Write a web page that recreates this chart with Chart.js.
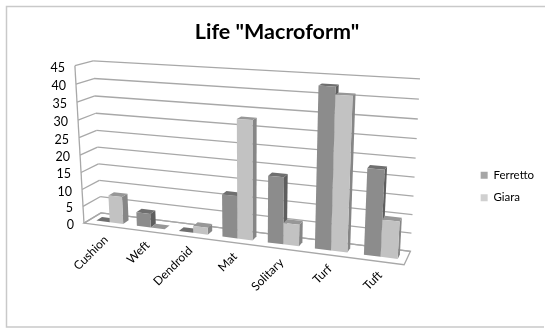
<!DOCTYPE html>
<html>
<head>
<meta charset="utf-8">
<title>Life "Macroform"</title>
<script src="https://cdn.jsdelivr.net/npm/chart.js@4"></script>
<style>
  html, body { margin: 0; padding: 0; background: #fff; }
  #wrap { width: 550px; height: 334px; }
</style>
</head>
<body>
<div id="wrap"><canvas id="grafica"></canvas></div>
<script>
const categorias = ["Cushion", "Weft", "Dendroid", "Mat", "Solitary", "Turf", "Tuft"];
const ferretto = [0, 4, 0, 12, 18.5, 43, 23];
const giara = [8, 0, 2, 33, 6, 41, 10];

// colors of each box: front, side, top
const colorFerretto = ["#8c8c8c", "#5e5e5e", "#6f6f6f"];
const colorGiara = ["#c2c2c2", "#868686", "#979797"];
const colorLeyenda = ["#a6a6a6", "#d0d0d0"];

// walls of the 3D box measured on the picture: [u, v, w] -> [x, y]
// u goes along the categories, v up the values, w from front to back
const esquinas = [
  [[0, 1, 1], [93, 61]], [[0, 0, 1], [101, 213]],
  [[1, 1, 1], [420, 79]], [[1, 0, 1], [410.5, 251]],
  [[0, 5 / 9, 1], [96.7, 130.3]], [[1, 5 / 9, 1], [415.7, 158]],
  [[0, 1, 0], [75, 65.5]], [[0, 0, 0], [84, 223]], [[1, 0, 0], [404, 265]]
];

// least squares for the 3x4 camera matrix (last term fixed to 1)
function calcularCamara(puntos) {
  const filas = [];
  puntos.forEach(([[u, v, w], [x, y]]) => {
    const px = x / 500, py = y / 500;
    filas.push([u, v, w, 1, 0, 0, 0, 0, -px * u, -px * v, -px * w, px]);
    filas.push([0, 0, 0, 0, u, v, w, 1, -py * u, -py * v, -py * w, py]);
  });
  const n = 11;
  const m = [];
  for (let i = 0; i < n; i++) {
    m[i] = [];
    for (let j = 0; j <= n; j++) {
      m[i][j] = filas.reduce((s, f) => s + f[i] * f[j], 0);
    }
  }
  for (let i = 0; i < n; i++) {
    let p = i;
    for (let k = i + 1; k < n; k++) if (Math.abs(m[k][i]) > Math.abs(m[p][i])) p = k;
    [m[i], m[p]] = [m[p], m[i]];
    for (let k = 0; k < n; k++) {
      if (k === i) continue;
      const f = m[k][i] / m[i][i];
      for (let j = i; j <= n; j++) m[k][j] -= f * m[i][j];
    }
  }
  return m.map((fila, i) => fila[n] / fila[i]);
}

const cam = calcularCamara(esquinas);

function proyectar(u, v, w) {
  const d = cam[8] * u + cam[9] * v + cam[10] * w + 1;
  return [
    500 * (cam[0] * u + cam[1] * v + cam[2] * w + cam[3]) / d,
    500 * (cam[4] * u + cam[5] * v + cam[6] * w + cam[7]) / d
  ];
}

function cara(ctx, puntos, relleno) {
  ctx.beginPath();
  puntos.forEach((p, i) => i ? ctx.lineTo(p[0], p[1]) : ctx.moveTo(p[0], p[1]));
  ctx.closePath();
  ctx.fillStyle = relleno;
  ctx.fill();
}

function linea(ctx, a, b) {
  ctx.beginPath();
  ctx.moveTo(a[0], a[1]);
  ctx.lineTo(b[0], b[1]);
  ctx.stroke();
}

const fondo = 1 / 3; // bars take the middle third of the floor depth

// the bars and axes keep their chart.js geometry, only the drawing is projected
const caja3d = {
  id: "caja3d",
  beforeDatasetsDraw(chart) {
    const ctx = chart.ctx;
    const area = chart.chartArea;
    const escalaY = chart.scales.y;
    const uDe = x => (x - area.left) / area.width;
    const vDe = y => (area.bottom - y) / area.height;

    ctx.save();

    // frame of the picture
    ctx.strokeStyle = "#c9c9c9";
    ctx.lineWidth = 1.5;
    ctx.beginPath();
    ctx.moveTo(545, 6.5);
    ctx.lineTo(6.5, 6.5);
    ctx.lineTo(6.5, 327);
    ctx.lineTo(544, 327);
    ctx.stroke();

    // grid lines on both walls
    ctx.strokeStyle = "#a8a8a8";
    ctx.lineWidth = 1.3;
    escalaY.ticks.forEach(t => {
      const v = vDe(escalaY.getPixelForValue(t.value));
      const atras = proyectar(0, v, 1);
      linea(ctx, proyectar(0, v, 0), atras);
      linea(ctx, atras, proyectar(1, v, 1));
    });
    linea(ctx, proyectar(0, 0, 0), proyectar(0, 1, 0));

    // floor
    ctx.beginPath();
    [[0, 0], [1, 0], [1, 1], [0, 1]].forEach(([u, w], i) => {
      const p = proyectar(u, 0, w);
      i ? ctx.lineTo(p[0], p[1]) : ctx.moveTo(p[0], p[1]);
    });
    ctx.closePath();
    ctx.stroke();

    // bars, left to right
    const metas = chart.data.datasets.map((d, i) => chart.getDatasetMeta(i));
    const colores = [colorFerretto, colorGiara];
    categorias.forEach((c, i) => {
      metas.forEach((meta, s) => {
        const b = meta.data[i];
        const u0 = uDe(b.x - b.width / 2), u1 = uDe(b.x + b.width / 2);
        const v0 = vDe(b.base), v1 = vDe(b.y);
        const w0 = fondo, w1 = 1 - fondo;
        cara(ctx, [proyectar(u1, v0, w0), proyectar(u1, v0, w1), proyectar(u1, v1, w1), proyectar(u1, v1, w0)], colores[s][1]);
        cara(ctx, [proyectar(u0, v1, w0), proyectar(u1, v1, w0), proyectar(u1, v1, w1), proyectar(u0, v1, w1)], colores[s][2]);
        cara(ctx, [proyectar(u0, v0, w0), proyectar(u1, v0, w0), proyectar(u1, v1, w0), proyectar(u0, v1, w0)], colores[s][0]);
      });
    });

    // value labels
    ctx.fillStyle = "#000";
    ctx.font = "12.5px Lato";
    ctx.textAlign = "right";
    ctx.textBaseline = "middle";
    escalaY.ticks.forEach(t => {
      const p = proyectar(0, vDe(escalaY.getPixelForValue(t.value)), 0);
      ctx.fillText(t.label, p[0] - 10, p[1] + 2);
    });

    // category labels
    const escalaX = chart.scales.x;
    ctx.font = "12px Lato";
    categorias.forEach((c, i) => {
      const p = proyectar(uDe(escalaX.getPixelForValue(i)), 0, 0);
      ctx.save();
      ctx.translate(p[0] + 2, p[1] + 12);
      ctx.rotate(-Math.PI / 4);
      ctx.textAlign = "right";
      ctx.fillText(c, 0, 0);
      ctx.restore();
    });

    ctx.restore();
    return false; // the flat bars are not drawn
  }
};

new Chart(document.getElementById("grafica"), {
  type: "bar",
  data: {
    labels: categorias,
    datasets: [
      { label: "Ferretto", data: ferretto, backgroundColor: colorFerretto[0], borderWidth: 0 },
      { label: "Giara", data: giara, backgroundColor: colorGiara[0], borderWidth: 0 }
    ]
  },
  options: {
    responsive: true,
    maintainAspectRatio: false,
    animation: false,
    categoryPercentage: 2 / 3,
    barPercentage: 1,
    layout: { padding: { left: 10, right: 6, bottom: 6 } },
    scales: {
      x: { display: false },
      y: { display: false, min: 0, max: 45, ticks: { stepSize: 5 } }
    },
    plugins: {
      title: {
        display: true,
        text: 'Life "Macroform"',
        color: "#000",
        font: { family: "Lato", size: 21.5, weight: "bold" },
        padding: { top: 19, bottom: 0 }
      },
      legend: {
        position: "right",
        fullSize: false,
        labels: {
          color: "#000",
          font: { family: "Lato", size: 11.5 },
          boxWidth: 7,
          boxHeight: 7,
          padding: 11,
          generateLabels: chart => Chart.defaults.plugins.legend.labels.generateLabels(chart)
            .map((l, i) => ({ ...l, fillStyle: colorLeyenda[i] }))
        }
      },
      tooltip: { enabled: false }
    }
  },
  plugins: [caja3d]
});
</script>
</body>
</html>
